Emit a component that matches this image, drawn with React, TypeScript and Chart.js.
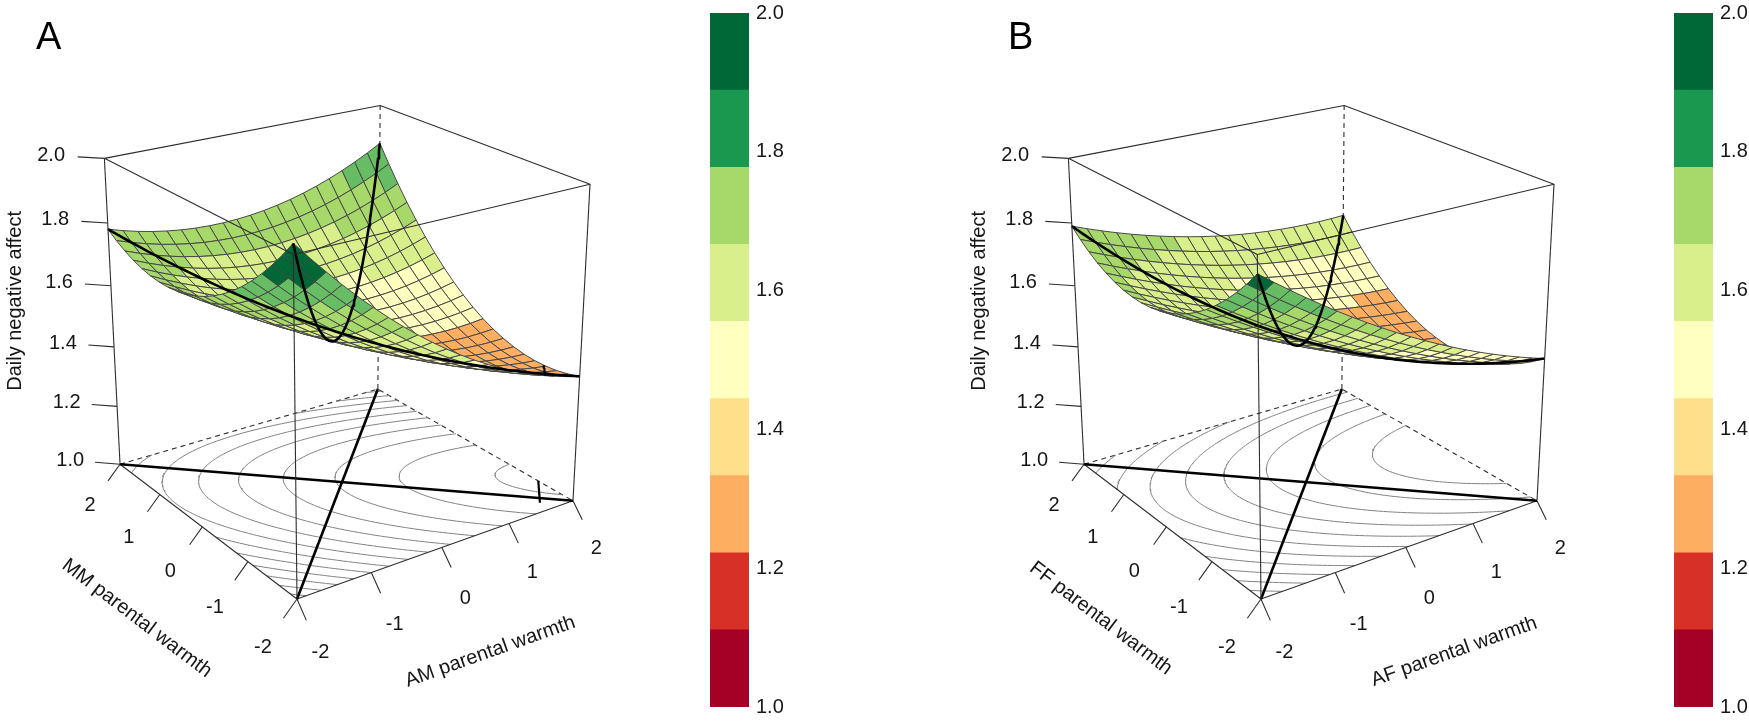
import React, { useEffect, useRef } from 'react';
import { Chart, registerables } from 'chart.js';

Chart.register(...registerables);

// ---------------- data ----------------
const PANEL_LETTERS = ['A', 'B'];
const X_TITLES = ['AM parental warmth', 'AF parental warmth'];
const Y_TITLES = ['MM parental warmth', 'FF parental warmth'];
const Z_TITLE = 'Daily negative affect';
const AXIS_TICKS = [-2, -1, 0, 1, 2];
const Z_TICKS = [1.0, 1.2, 1.4, 1.6, 1.8, 2.0];
const XY_LIMITS = [-2, 2];
const Z_LIMITS = [1, 2];
// polynomial response surfaces:
// z = b0 + b1*X + b2*Y + b3*X^2 + b4*X*Y + b5*Y^2
const COEF_A = [1.495, -0.06575, 0.02675, 0.02525, 0.0446, 0.0444];
const COEF_B = [1.47, -0.0804, 0.0003, 0.013, 0.0199, 0.0465];
// short principal-axis marks (X, Y pairs) seen near the low corner
const MARK_A_X = [1.64, 2.0];
const MARK_A_Y = [-1.81, -1.36];
const MARK_B_X: number[] = [];
const MARK_B_Y: number[] = [];
const COLOR_BREAKS = [1.0, 1.1111, 1.2222, 1.3333, 1.4444, 1.5556, 1.6667, 1.7778, 1.8889, 2.0];
const KEY_COLORS = ['#a50026', '#d73027', '#fdae61', '#fee08b', '#ffffbf', '#d9ef8b', '#a6d96a', '#1a9850', '#006837'];
const SURFACE_COLORS = ['#a50026', '#d73027', '#f46d43', '#fdae61', '#ffffbf', '#d9ef8b', '#a6d96a', '#66bd63', '#006837'];
const CONTOUR_LEVELS = [1.35, 1.4, 1.45, 1.5, 1.55, 1.6, 1.65, 1.7, 1.75, 1.8, 1.85, 1.9, 1.95, 2.0];

// ---------------- layout / style ----------------
const FONT = '"Liberation Sans", Arial, Helvetica, sans-serif';
const VIEW = { azimuth: 55, elevation: 22.5, distance: 11, scale: 168.2, originX: 342, originY: 332 };
const GRID_CELLS = 20;
const CONTOUR_RES = 90;
const PAGE_W = 1749;
const PAGE_H = 722;
const PANEL_SHIFT = 964;
const PLOT_W = 705;
const KEY_LEFT = 710;
const KEY_TOP = 8;
const KEY_BOTTOM = 712;
const KEY_BAR_W = 39;
const KEY_AXIS_W = 40;
const KEY_PAD_L = 10;
const KEY_PAD_V = 14;
const TICK_XY = 0.09;
const TICK_Z = 0.115;
const BOX_COLOR = '#2e2e2e';
const MESH_COLOR = '#474747';
const CONTOUR_COLOR = '#808080';
const TEXT_COLOR = '#161616';

type Pt = { x: number; y: number };
type TextItem = { x: number; y: number; text: string; font: string; rot?: number; along?: [Pt, Pt] };

const surf = (c: number[], X: number, Y: number) =>
  c[0] + c[1] * X + c[2] * Y + c[3] * X * X + c[4] * X * Y + c[5] * Y * Y;

const xyMid = (XY_LIMITS[0] + XY_LIMITS[1]) / 2;
const xyHalf = (XY_LIMITS[1] - XY_LIMITS[0]) / 2;
const zMid = (Z_LIMITS[0] + Z_LIMITS[1]) / 2;
const zHalf = (Z_LIMITS[1] - Z_LIMITS[0]) / 2;
const nXY = (v: number) => (v - xyMid) / xyHalf;
const nZ = (v: number) => (v - zMid) / zHalf;

function makeProjector() {
  const th = (VIEW.azimuth * Math.PI) / 180;
  const ph = (VIEW.elevation * Math.PI) / 180;
  const st = Math.sin(th), ct = Math.cos(th), sp = Math.sin(ph), cp = Math.cos(ph);
  return (nx: number, ny: number, nz: number) => {
    const xc = nx * st - ny * ct;
    const fh = nx * ct + ny * st;
    const yc = sp * fh + cp * nz;
    const d = VIEW.distance + cp * fh - sp * nz;
    return { x: (VIEW.distance * xc) / d, y: (VIEW.distance * yc) / d, d };
  };
}
const P = makeProjector();
const ptN = (nx: number, ny: number, nz: number): Pt => {
  const p = P(nx, ny, nz);
  return { x: p.x, y: p.y };
};
const ptD = (X: number, Y: number, z: number): Pt => ptN(nXY(X), nXY(Y), nZ(z));
const GAP: Pt = { x: NaN, y: NaN };

function lineDs(data: Pt[], color: string, width: number, dash: number[] = []) {
  return {
    data,
    borderColor: color,
    borderWidth: width,
    borderDash: dash,
    fill: false,
    pointRadius: 0,
    tension: 0,
    borderJoinStyle: 'round' as const,
    borderCapStyle: 'butt' as const,
  };
}

function bandIndex(z: number) {
  let k = 0;
  while (k < SURFACE_COLORS.length - 1 && z >= COLOR_BREAKS[k + 1]) k++;
  return k;
}

function contourSegments(coef: number[], level: number) {
  const lo = XY_LIMITS[0];
  const step = (XY_LIMITS[1] - lo) / CONTOUR_RES;
  const segs: [number[], number[]][] = [];
  const v = (i: number, j: number) => surf(coef, lo + i * step, lo + j * step) - level;
  const cross = (p: number, q: number, A: number[], B: number[]) => {
    const t = p / (p - q);
    return [lo + (A[0] + t * (B[0] - A[0])) * step, lo + (A[1] + t * (B[1] - A[1])) * step];
  };
  for (let i = 0; i < CONTOUR_RES; i++) {
    for (let j = 0; j < CONTOUR_RES; j++) {
      const a = v(i, j), b = v(i + 1, j), c = v(i + 1, j + 1), d = v(i, j + 1);
      const A = [i, j], B = [i + 1, j], C = [i + 1, j + 1], D = [i, j + 1];
      const pts: number[][] = [];
      if (a > 0 !== b > 0) pts.push(cross(a, b, A, B));
      if (b > 0 !== c > 0) pts.push(cross(b, c, B, C));
      if (c > 0 !== d > 0) pts.push(cross(c, d, C, D));
      if (d > 0 !== a > 0) pts.push(cross(d, a, D, A));
      if (pts.length === 2) segs.push([pts[0], pts[1]]);
      else if (pts.length === 4) {
        segs.push([pts[0], pts[1]]);
        segs.push([pts[2], pts[3]]);
      }
    }
  }
  return segs;
}

function buildPanel(coef: number[], xTitle: string, yTitle: string, markX: number[], markY: number[]) {
  const lo = XY_LIMITS[0], hi = XY_LIMITS[1];
  const z0 = Z_LIMITS[0], z1 = Z_LIMITS[1];
  const painter: any[] = [];
  const texts: TextItem[] = [];
  const tickFont = `20px ${FONT}`;

  // hidden (back) box edges
  painter.push(lineDs([ptD(lo, hi, z0), ptD(hi, hi, z0), ptD(hi, lo, z0)], BOX_COLOR, 1.1, [5, 4]));
  painter.push(lineDs([ptD(hi, hi, z0), ptD(hi, hi, z1)], BOX_COLOR, 1.1, [5, 4]));

  // floor contours
  for (const lev of CONTOUR_LEVELS) {
    const segs = contourSegments(coef, lev);
    if (!segs.length) continue;
    const data: Pt[] = [];
    for (const [a, b] of segs) data.push(ptD(a[0], a[1], z0), ptD(b[0], b[1], z0), GAP);
    painter.push(lineDs(data, CONTOUR_COLOR, 1));
  }

  // floor front edges
  painter.push(lineDs([ptD(lo, hi, z0), ptD(lo, lo, z0), ptD(hi, lo, z0)], BOX_COLOR, 1.1));

  // axis ticks + labels
  const yTicks: Pt[] = [];
  const xTicks: Pt[] = [];
  const zTicks: Pt[] = [];
  for (const t of AXIS_TICKS) {
    const n = nXY(t);
    yTicks.push(ptN(-1, n, -1), ptN(-1 - TICK_XY, n, -1 - TICK_XY), GAP);
    const ly = ptN(-1 - 2.5 * TICK_XY, n, -1 - 2.5 * TICK_XY);
    texts.push({ x: ly.x, y: ly.y, text: String(t), font: tickFont });
    xTicks.push(ptN(n, -1, -1), ptN(n, -1 - TICK_XY, -1 - TICK_XY), GAP);
    const lx = ptN(n, -1 - 2.5 * TICK_XY, -1 - 2.5 * TICK_XY);
    texts.push({ x: lx.x, y: lx.y, text: String(t), font: tickFont });
  }
  for (const t of Z_TICKS) {
    const n = nZ(t);
    zTicks.push(ptN(-1, 1, n), ptN(-1 - TICK_Z, 1 + TICK_Z, n), GAP);
    const lz = ptN(-1 - 2 * TICK_Z, 1 + 2 * TICK_Z, n);
    texts.push({ x: lz.x, y: lz.y, text: t.toFixed(1), font: tickFont });
  }
  painter.push(lineDs(yTicks, BOX_COLOR, 1.1));
  painter.push(lineDs(xTicks, BOX_COLOR, 1.1));
  painter.push(lineDs(zTicks, BOX_COLOR, 1.1));

  const yt = ptN(-1.46, 0, -1.46);
  texts.push({ x: yt.x, y: yt.y, text: yTitle, font: tickFont, along: [ptN(-1, 1, -1), ptN(-1, -1, -1)] });
  const xt = ptN(0, -1.46, -1.46);
  texts.push({ x: xt.x, y: xt.y, text: xTitle, font: tickFont, along: [ptN(-1, -1, -1), ptN(1, -1, -1)] });
  const zt = ptN(-1.43, 1.43, 0.06);
  texts.push({ x: zt.x, y: zt.y, text: Z_TITLE, font: tickFont, rot: -Math.PI / 2 });

  // floor projections of LOC, LOIC and the axis mark
  painter.push(lineDs([ptD(lo, lo, z0), ptD(hi, hi, z0)], '#000', 2.6));
  painter.push(lineDs([ptD(lo, hi, z0), ptD(hi, lo, z0)], '#000', 2.6));
  if (markX.length === 2) {
    painter.push(lineDs([ptD(markX[0], markY[0], z0), ptD(markX[1], markY[1], z0)], '#000', 2.2));
  }

  // surface facets, far to near
  const N = GRID_CELLS;
  const step = (hi - lo) / N;
  const quads: { depth: number; ds: any }[] = [];
  for (let i = 0; i < N; i++) {
    for (let j = 0; j < N; j++) {
      const xa = lo + i * step, xb = lo + (i + 1) * step;
      const ya = lo + j * step, yb = lo + (j + 1) * step;
      const corners = [[xa, ya], [xb, ya], [xb, yb], [xa, yb]];
      const zs = corners.map(([X, Y]) => surf(coef, X, Y));
      const zm = (zs[0] + zs[1] + zs[2] + zs[3]) / 4;
      const depth = P(nXY((xa + xb) / 2), nXY((ya + yb) / 2), nZ(zm)).d;
      const pts = corners.map(([X, Y], k) => ptD(X, Y, zs[k]));
      pts.push(pts[0]);
      quads.push({
        depth,
        ds: {
          data: pts,
          borderColor: MESH_COLOR,
          borderWidth: 1,
          backgroundColor: SURFACE_COLORS[bandIndex(zm)],
          fill: 'shape',
          pointRadius: 0,
          tension: 0,
        },
      });
    }
  }
  quads.sort((a, b) => b.depth - a.depth);
  for (const q of quads) painter.push(q.ds);

  // surface curves
  const S = 80;
  const loc: Pt[] = [], loic: Pt[] = [];
  for (let k = 0; k <= S; k++) {
    const t = lo + ((hi - lo) * k) / S;
    loc.push(ptD(t, t, surf(coef, t, t)));
    loic.push(ptD(t, -t, surf(coef, t, -t)));
  }
  painter.push(lineDs(loc, '#000', 2.6));
  painter.push(lineDs(loic, '#000', 2.6));
  if (markX.length === 2) {
    const seg: Pt[] = [];
    for (let k = 0; k <= 20; k++) {
      const X = markX[0] + ((markX[1] - markX[0]) * k) / 20;
      const Y = markY[0] + ((markY[1] - markY[0]) * k) / 20;
      seg.push(ptD(X, Y, surf(coef, X, Y)));
    }
    painter.push(lineDs(seg, '#000', 2.2));
  }

  // front / top box edges
  painter.push(lineDs([ptD(lo, hi, z0), ptD(lo, hi, z1)], BOX_COLOR, 1.1));
  painter.push(lineDs([ptD(lo, lo, z0), ptD(lo, lo, z1)], BOX_COLOR, 1.1));
  painter.push(lineDs([ptD(hi, lo, z0), ptD(hi, lo, z1)], BOX_COLOR, 1.1));
  painter.push(
    lineDs([ptD(lo, hi, z1), ptD(hi, hi, z1), ptD(hi, lo, z1), ptD(lo, lo, z1), ptD(lo, hi, z1)], BOX_COLOR, 1.1)
  );

  // Chart.js paints the first dataset last, so reverse the painter's list
  return { datasets: painter.slice().reverse(), texts };
}

function textPlugin(items: TextItem[]) {
  return {
    id: 'axisText',
    afterDatasetsDraw(chart: any) {
      const { ctx } = chart;
      const xs = chart.scales.x, ys = chart.scales.y;
      ctx.save();
      ctx.fillStyle = TEXT_COLOR;
      ctx.textAlign = 'center';
      ctx.textBaseline = 'middle';
      for (const it of items) {
        const px = xs.getPixelForValue(it.x), py = ys.getPixelForValue(it.y);
        let rot = it.rot || 0;
        if (it.along) {
          const a = it.along[0], b = it.along[1];
          rot = Math.atan2(
            ys.getPixelForValue(b.y) - ys.getPixelForValue(a.y),
            xs.getPixelForValue(b.x) - xs.getPixelForValue(a.x)
          );
        }
        ctx.save();
        ctx.translate(px, py);
        ctx.rotate(rot);
        ctx.font = it.font;
        ctx.fillText(it.text, 0, 0);
        ctx.restore();
      }
      ctx.restore();
    },
  };
}

function make3D(canvas: HTMLCanvasElement, coef: number[], xTitle: string, yTitle: string, mx: number[], my: number[]) {
  const built = buildPanel(coef, xTitle, yTitle, mx, my);
  const s = VIEW.scale;
  return new Chart(canvas, {
    type: 'line',
    data: { datasets: built.datasets },
    options: {
      animation: false,
      responsive: false,
      events: [],
      layout: { padding: 0 },
      plugins: { legend: { display: false }, tooltip: { enabled: false }, filler: { propagate: false } },
      elements: { point: { radius: 0, hitRadius: 0 }, line: { tension: 0 } },
      scales: {
        x: { type: 'linear', display: false, min: -VIEW.originX / s, max: (PLOT_W - VIEW.originX) / s },
        y: { type: 'linear', display: false, min: -(PAGE_H - VIEW.originY) / s, max: VIEW.originY / s },
      },
    } as any,
    plugins: [textPlugin(built.texts)],
  });
}

function makeKey(canvas: HTMLCanvasElement) {
  return new Chart(canvas, {
    type: 'bar',
    data: {
      labels: [''],
      datasets: KEY_COLORS.map((c, i) => ({
        data: [[COLOR_BREAKS[i], COLOR_BREAKS[i + 1]]],
        backgroundColor: c,
        borderWidth: 0,
        barPercentage: 1,
        categoryPercentage: 1,
        grouped: false,
      })),
    } as any,
    options: {
      animation: false,
      responsive: false,
      events: [],
      layout: { padding: { left: KEY_PAD_L, right: 0, top: KEY_PAD_V, bottom: KEY_PAD_V } },
      plugins: { legend: { display: false }, tooltip: { enabled: false } },
      scales: {
        x: { display: false },
        y: {
          position: 'right',
          min: Z_LIMITS[0],
          max: Z_LIMITS[1],
          grid: { display: false, drawTicks: false },
          border: { display: false },
          ticks: {
            color: TEXT_COLOR,
            font: { size: 20, family: FONT },
            padding: 7,
            callback: (v: any) => Number(v).toFixed(1),
          },
          afterBuildTicks: (scale: any) => {
            scale.ticks = Z_TICKS.map((v) => ({ value: v }));
          },
          afterFit: (scale: any) => {
            scale.width = KEY_AXIS_W;
          },
        },
      },
    } as any,
  });
}

const KEY_CANVAS_W = KEY_PAD_L + KEY_BAR_W + KEY_AXIS_W;
const KEY_CANVAS_H = KEY_BOTTOM - KEY_TOP + 2 * KEY_PAD_V;
const LETTER_LEFT = [36, 1008];

export default function App() {
  const plotA = useRef<HTMLCanvasElement>(null);
  const plotB = useRef<HTMLCanvasElement>(null);
  const keyA = useRef<HTMLCanvasElement>(null);
  const keyB = useRef<HTMLCanvasElement>(null);

  useEffect(() => {
    Chart.defaults.font.family = FONT;
    const charts: Chart[] = [];
    if (plotA.current) charts.push(make3D(plotA.current, COEF_A, X_TITLES[0], Y_TITLES[0], MARK_A_X, MARK_A_Y));
    if (plotB.current) charts.push(make3D(plotB.current, COEF_B, X_TITLES[1], Y_TITLES[1], MARK_B_X, MARK_B_Y));
    if (keyA.current) charts.push(makeKey(keyA.current));
    if (keyB.current) charts.push(makeKey(keyB.current));
    return () => charts.forEach((c) => c.destroy());
  }, []);

  const plotRefs = [plotA, plotB];
  const keyRefs = [keyA, keyB];

  return (
    <div
      style={{
        position: 'fixed',
        left: 0,
        top: 0,
        width: PAGE_W,
        height: PAGE_H,
        background: '#ffffff',
        overflow: 'hidden',
      }}
    >
      {PANEL_LETTERS.map((letter, k) => (
        <React.Fragment key={letter}>
          <canvas
            ref={plotRefs[k]}
            width={PLOT_W}
            height={PAGE_H}
            style={{ position: 'absolute', left: k * PANEL_SHIFT, top: 0, width: PLOT_W, height: PAGE_H }}
          />
          <canvas
            ref={keyRefs[k]}
            width={KEY_CANVAS_W}
            height={KEY_CANVAS_H}
            style={{
              position: 'absolute',
              left: KEY_LEFT - KEY_PAD_L + k * PANEL_SHIFT,
              top: KEY_TOP - KEY_PAD_V,
              width: KEY_CANVAS_W,
              height: KEY_CANVAS_H,
            }}
          />
          <div
            style={{
              position: 'absolute',
              left: LETTER_LEFT[k],
              top: 17,
              fontFamily: FONT,
              fontSize: 38,
              lineHeight: 1,
              color: '#000',
            }}
          >
            {letter}
          </div>
        </React.Fragment>
      ))}
    </div>
  );
}
